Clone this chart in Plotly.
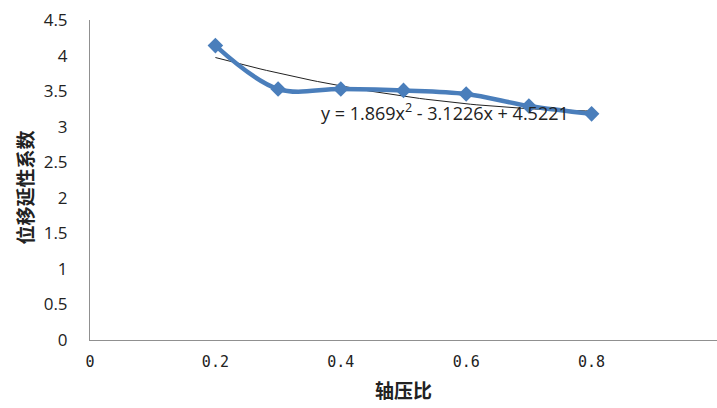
import plotly.graph_objects as go
import numpy as np

axial_ratio = [0.2, 0.3, 0.4, 0.5, 0.6, 0.7, 0.8]
ductility = [4.14, 3.53, 3.53, 3.51, 3.46, 3.29, 3.18]
coef = [1.869, -3.1226, 4.5221]
x_ticks = [0, 0.2, 0.4, 0.6, 0.8]
x_tick_labels = ["0", "0.2", "0.4", "0.6", "0.8"]
y_ticks = [0, 0.5, 1, 1.5, 2, 2.5, 3, 3.5, 4, 4.5]
y_tick_labels = ["0", "0.5", "1", "1.5", "2", "2.5", "3", "3.5", "4", "4.5"]

tx = np.linspace(min(axial_ratio), max(axial_ratio), 60)
ty = np.polyval(coef, tx)

fig = go.Figure()
fig.add_trace(go.Scatter(x=tx, y=ty, mode="lines",
                         line=dict(color="#222222", width=1), hoverinfo="skip"))
fig.add_trace(go.Scatter(x=axial_ratio, y=ductility, mode="lines+markers",
                         line=dict(color="#4a7ebb", width=4.5, shape="spline", smoothing=1.0),
                         marker=dict(symbol="diamond", size=12, color="#4a7ebb")))

fig.add_annotation(x=0.566, y=3.2, xref="x", yref="y",
                   text="y = 1.869x<sup>2</sup> - 3.1226x + 4.5221",
                   showarrow=False, font=dict(family="Open Sans, Liberation Sans", size=18, color="#222222"))

fig.add_annotation(x=-0.106, y=0.475, xref="paper", yref="paper",
                   xanchor="center", yanchor="middle",
                   text="<b>位移延性系数</b>", textangle=-90, showarrow=False,
                   font=dict(family="Noto Sans CJK SC", size=19, color="#222222"))

fig.update_layout(
    width=717, height=408,
    margin=dict(l=90, r=0, t=20, b=68),
    paper_bgcolor="white", plot_bgcolor="white",
    showlegend=False,
    xaxis=dict(range=[0, 1.0], tickvals=x_ticks, ticktext=x_tick_labels,
               showgrid=False, zeroline=False, showline=True, linecolor="#909090", linewidth=1,
               ticks="", ticklabelstandoff=8,
               tickfont=dict(family="DejaVu Sans Mono, Liberation Mono", size=15, color="#222222"),
               title=dict(text="<b>轴压比</b>", font=dict(family="Noto Sans CJK SC", size=19, color="#222222"),
                          standoff=14)),
    yaxis=dict(range=[0, 4.5], tickvals=y_ticks, ticktext=y_tick_labels,
               showgrid=False, zeroline=False, showline=True, linecolor="#909090", linewidth=1,
               ticks="", ticklabelstandoff=18,
               tickfont=dict(family="Open Sans, Liberation Sans", size=17, color="#222222")),
)

fig.write_html("out.html")
